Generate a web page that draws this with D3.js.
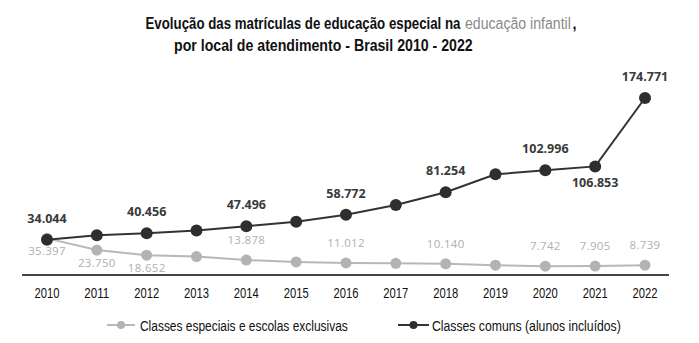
<!DOCTYPE html>
<html><head><meta charset="utf-8">
<script src="https://cdn.jsdelivr.net/npm/d3@7"></script>
<style>body{margin:0;background:#fff}svg{display:block}</style>
</head><body>
<svg id="c" width="699" height="343"></svg>
<script>
const years = ["2010","2011","2012","2013","2014","2015","2016","2017","2018","2019","2020","2021","2022"];
const classesEspeciais = [35397,23750,18652,17300,13878,12000,11012,10600,10140,8800,7742,7905,8739];
const classesComuns = [34044,38400,40456,43200,47496,51800,58772,68600,81254,99000,102996,106853,174771];
// which labels are shown, and where: 1 = above, -1 = below, 0 = none
const especiaisLabelPos = [-1,-1,-1,0,1,0,1,0,1,0,1,1,1];
const comunsLabelPos = [1,0,1,0,1,0,1,0,1,0,1,-1,1];
const seriesNames = ["Classes especiais e escolas exclusivas","Classes comuns (alunos incluídos)"];
const titleParts = ["Evolução das matrículas de educação especial na", "educação infantil", ","];
const titleLine2 = "por local de atendimento  - Brasil 2010 - 2022";

const svg = d3.select("#c");
const sans = "'Liberation Sans',Arial,sans-serif";
const fmt = v => d3.format(",")(v).replace(/,/g, ".");

const x = d3.scalePoint().domain(years).range([47, 645]);
const y = d3.scaleLinear().domain([0, 174771]).range([274, 98]);

// condensed text: horizontally scaled to a target width
function narrowText(g, tx, ty, len, size, txt, color, weight, anchor) {
  const t = g.append("text").attr("x", 0).attr("y", 0)
    .attr("font-family", sans).attr("font-size", size).attr("font-weight", weight || "normal")
    .attr("fill", color).attr("text-anchor", anchor || "start").text(txt);
  const w = t.node().getComputedTextLength();
  t.attr("transform", `translate(${tx},${ty}) scale(${len / w},1)`);
  return t;
}
narrowText(svg, 145.5, 28.5, 315, 17, titleParts[0], "#111", "bold");
narrowText(svg, 465, 28.5, 106, 17, titleParts[1], "#8a8a8a", "normal");
narrowText(svg, 572.5, 28.5, 4, 17, titleParts[2], "#111", "bold");
narrowText(svg, 174, 50.5, 299, 17, titleLine2, "#111", "bold");

// x axis
const xAxis = d3.axisBottom(x).tickSize(0).tickFormat(() => "");
const gx = svg.append("g").attr("transform", "translate(0,275)").call(xAxis);
gx.select(".domain").remove();
years.forEach(yr => narrowText(svg, x(yr), 297.5, 25, 15, yr, "#111", "normal", "middle"));
svg.append("line").attr("x1", 22).attr("x2", 669).attr("y1", 275).attr("y2", 275)
  .attr("stroke", "#444").attr("stroke-width", 2);

const line = d3.line().x((d, i) => x(years[i])).y(d => y(d));

// light series
const gl = svg.append("g");
gl.append("path").datum(classesEspeciais).attr("d", line).attr("fill", "none")
  .attr("stroke", "#b8b8b8").attr("stroke-width", 2);
gl.selectAll("circle").data(classesEspeciais).join("circle")
  .attr("cx", (d, i) => x(years[i])).attr("cy", d => y(d)).attr("r", 5.5).attr("fill", "#b3b3b3");

// dark series
const gd = svg.append("g");
gd.append("path").datum(classesComuns).attr("d", line).attr("fill", "none")
  .attr("stroke", "#333").attr("stroke-width", 2);
gd.selectAll("circle").data(classesComuns).join("circle")
  .attr("cx", (d, i) => x(years[i])).attr("cy", d => y(d)).attr("r", 6).attr("fill", "#2e2e2e");

// labels
svg.append("g").selectAll("text").data(classesEspeciais.map((v, i) => ({v, i})).filter(d => especiaisLabelPos[d.i] !== 0))
  .join("text")
  .attr("x", d => x(years[d.i]))
  .attr("y", d => y(d.v) + (especiaisLabelPos[d.i] > 0 ? -16 : 17))
  .attr("text-anchor", "middle").attr("font-family", "'Open Sans',sans-serif").attr("font-size", 11.5)
  .attr("fill", "#b0b0b0").attr("letter-spacing", 0.3).text(d => fmt(d.v));

svg.append("g").selectAll("text").data(classesComuns.map((v, i) => ({v, i})).filter(d => comunsLabelPos[d.i] !== 0))
  .join("text")
  .attr("x", d => x(years[d.i]))
  .attr("y", d => y(d.v) + (comunsLabelPos[d.i] > 0 ? -17 : 21))
  .attr("text-anchor", "middle").attr("font-family", "'Open Sans',sans-serif").attr("font-size", 12.5)
  .attr("font-weight", "bold").attr("fill", "#3a3a3a").text(d => fmt(d.v));

// legend
const legend = [
  {name: seriesNames[0], x1: 107, x2: 135, tx: 140, len: 208, stroke: "#b8b8b8", fill: "#b3b3b3"},
  {name: seriesNames[1], x1: 398, x2: 429, tx: 432, len: 189, stroke: "#333", fill: "#2e2e2e"}
];
const lg = svg.append("g").selectAll("g").data(legend).join("g");
lg.append("line").attr("x1", d => d.x1).attr("x2", d => d.x2).attr("y1", 325).attr("y2", 325)
  .attr("stroke", d => d.stroke).attr("stroke-width", 2);
lg.append("circle").attr("cx", d => (d.x1 + d.x2) / 2).attr("cy", 325).attr("r", 4).attr("fill", d => d.fill);
legend.forEach(d => narrowText(svg, d.tx, 330.5, d.len, 15, d.name, "#111"));
</script>
</body></html>
